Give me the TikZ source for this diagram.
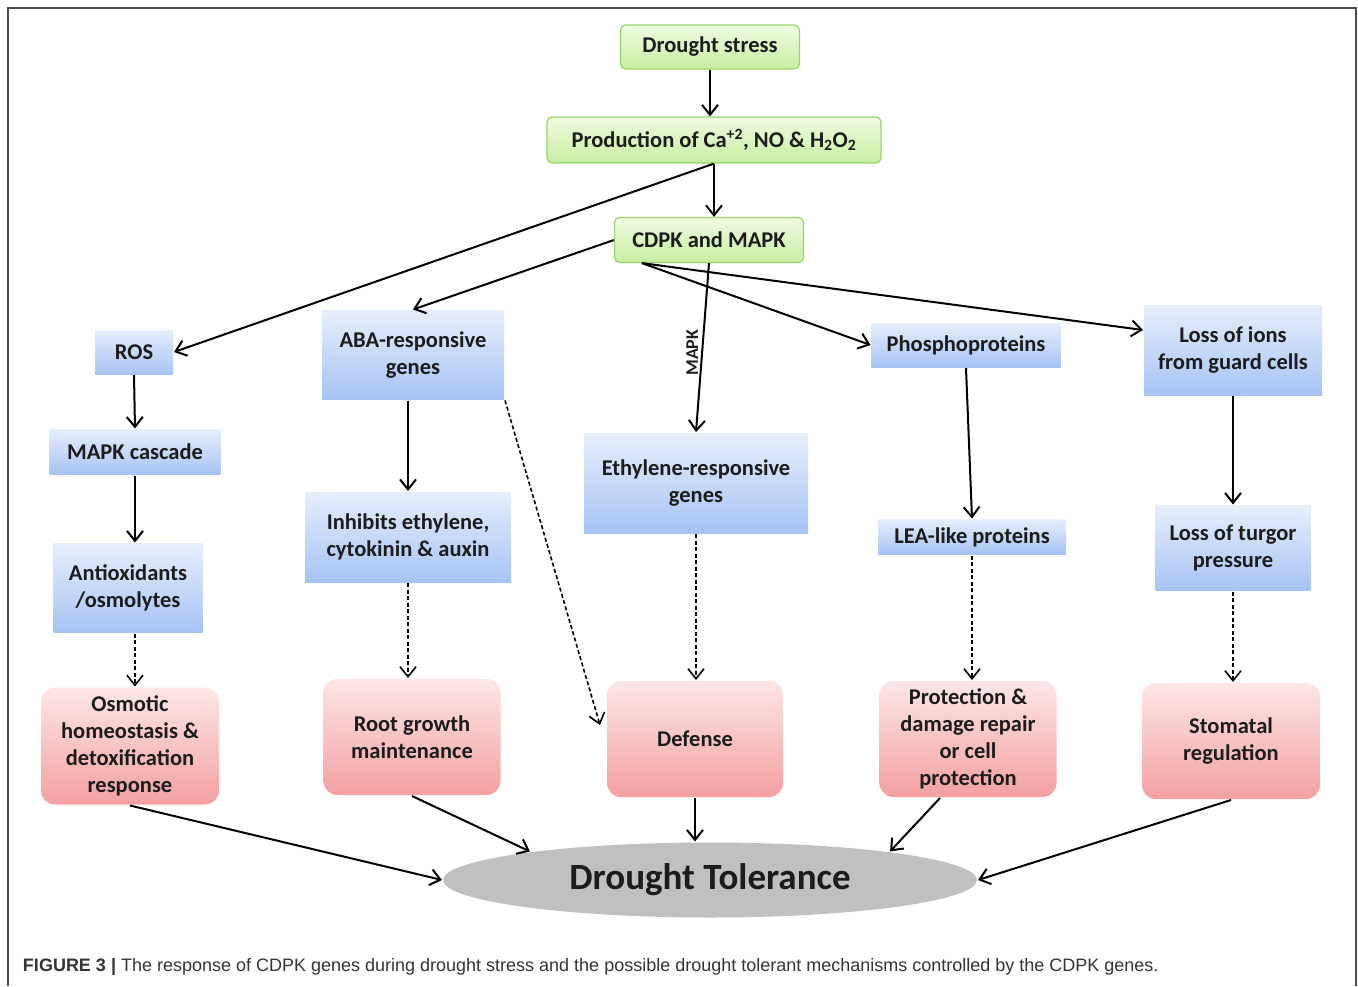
\documentclass[tikz,border=0pt]{standalone}
\usepackage{fontspec}
\setmainfont{Carlito}
\newfontfamily\capfont{Liberation Sans}
\usetikzlibrary{positioning, arrows.meta, shapes.geometric}
\definecolor{greentop}{HTML}{F0FBE2}
\definecolor{greenbot}{HTML}{C6EEA0}
\definecolor{greenline}{HTML}{98D46A}
\definecolor{bluetop}{HTML}{E6EEFC}
\definecolor{bluebot}{HTML}{A6C3F4}
\definecolor{pinktop}{HTML}{FDE6E6}
\definecolor{pinkbot}{HTML}{F3A0A0}
\definecolor{tolgray}{HTML}{C0C0C0}
\definecolor{inktext}{HTML}{1C1C1C}

\begin{document}
\begin{tikzpicture}[x=1pt,y=-1pt,>={Straight Barb[length=10pt,width=16pt]},line width=2pt,on grid,
  font=\bfseries\fontsize{22.5}{27}\selectfont]
\tikzstyle{greenbox}=[draw=greenline,line width=1.2pt,rounded corners=5pt,top color=greentop,bottom color=greenbot,
  align=center,inner sep=0pt,text=inktext]
\tikzstyle{bluebox}=[top color=bluetop,bottom color=bluebot,align=center,inner sep=0pt,text=inktext]
\tikzstyle{pinkbox}=[rounded corners=14pt,top color=pinktop,bottom color=pinkbot,align=center,inner sep=0pt,text=inktext]
\tikzstyle{dashline}=[->,line width=1.6pt,dash pattern=on 4pt off 2.5pt]

\useasboundingbox (0,0) rectangle (1358,986);
\draw[gray!60!black,line width=1.5pt] (8,986) -- (8,8) -- (1356,8) -- (1356,986);

%--- top chain ---
\node[greenbox,minimum width=179pt,minimum height=44pt] (ds) at (710,47) {Drought stress};
\node[greenbox,minimum width=334pt,minimum height=46pt] (prod) [below right=93pt and 4pt of ds]
  {Production of Ca\textsuperscript{+2}, NO \& H\textsubscript{2}O\textsubscript{2}};
\node[greenbox,minimum width=189pt,minimum height=45pt] (cdpk) [below left=100pt and 5pt of prod] {CDPK and MAPK};

%--- second row ---
\node[bluebox,minimum width=78pt,minimum height=44pt] (ros) at (134,352) {ROS};
\node[bluebox,minimum width=182pt,minimum height=89pt] (aba) at (413,355) {ABA-responsive\\genes};
\node[bluebox,minimum width=224pt,minimum height=100pt] (eth) at (696,483) {Ethylene-responsive\\genes};
\node[bluebox,minimum width=189pt,minimum height=44pt] (phos) at (966,345) {Phosphoproteins};
\node[bluebox,minimum width=178pt,minimum height=90pt] (ions) at (1233,350) {Loss of ions\\from guard cells};

%--- columns ---
\node[bluebox,minimum width=171pt,minimum height=45pt] (mc) [below right=100pt and 1pt of ros] {MAPK cascade};
\node[bluebox,minimum width=149pt,minimum height=89pt] (anti) [below left=136pt and 7pt of mc] {Antioxidants\\/osmolytes};
\node[bluebox,minimum width=206pt,minimum height=90pt] (inh) [below left=182pt and 5pt of aba] {Inhibits ethylene,\\cytokinin \& auxin};
\node[bluebox,minimum width=188pt,minimum height=35pt] (lea) [below right=192pt and 6pt of phos] {LEA-like proteins};
\node[bluebox,minimum width=155pt,minimum height=85pt] (turg) [below=198pt of ions] {Loss of turgor\\pressure};

%--- outcomes ---
\node[pinkbox,minimum width=178pt,minimum height=117pt] (os) [below right=158pt and 2pt of anti]
  {Osmotic\\homeostasis \&\\detoxification\\response};
\node[pinkbox,minimum width=177pt,minimum height=116pt] (root) [below right=200pt and 4pt of inh] {Root growth\\maintenance};
\node[pinkbox,minimum width=176pt,minimum height=116pt] (def) [below left=256pt and 1pt of eth] {Defense};
\node[pinkbox,minimum width=177pt,minimum height=116pt] (prot) [below left=202pt and 4pt of lea]
  {Protection \&\\damage repair\\or cell\\protection};
\node[pinkbox,minimum width=178pt,minimum height=116pt] (stom) [below left=193pt and 2pt of turg] {Stomatal\\regulation};

\node[ellipse,fill=tolgray,minimum width=534pt,minimum height=75pt,inner sep=0pt,text=inktext,
  font=\bfseries\fontsize{37}{40}\selectfont] (dt) at (710,880) {Drought Tolerance};

%--- arrows ---
\draw[->] (ds.south) -- (ds.south |- prod.north);
\draw[->] (prod.south) -- (prod.south |- cdpk.north);
\draw[->] (prod.south) -- (ros.east);
\draw[->] (cdpk.west) -- (aba.north);
\draw[->] (cdpk.south) -- node[pos=0.53,rotate=90,anchor=south,inner sep=3pt,text=inktext,
  font=\bfseries\fontsize{18}{18}\selectfont] {MAPK} (eth.north);
\draw[->] ([xshift=28pt]cdpk.south west) -- (phos.west);
\draw[->] ([xshift=28pt]cdpk.south west) -- ([yshift=20pt]ions.west);

\draw[->] (ros.south) -- (mc.north);
\draw[->] (mc.south) -- (mc.south |- anti.north);
\draw[dashline] (mc.south |- anti.south) -- (mc.south |- os.north);
\draw[->] (inh.north |- aba.south) -- (inh.north);
\draw[dashline] (inh.south) -- (inh.south |- root.north);
\draw[dashline] (aba.south east) -- ([xshift=-6pt,yshift=14pt]def.west);
\draw[dashline] (eth.south) -- (eth.south |- def.north);
\draw[->] (phos.south) -- (lea.north);
\draw[dashline] (lea.south) -- (lea.south |- prot.north);
\draw[->] (ions.south) -- (turg.north);
\draw[dashline] (turg.south) -- (turg.south |- stom.north);

\draw[->] (os.south) -- (dt.west);
\draw[->] (root.south) -- (dt.171);
\draw[->] (def.south) -- (def.south |- dt.north);
\draw[->] ([xshift=-28pt]prot.south) -- (dt.9);
\draw[->] (stom.south) -- (dt.east);

%--- caption ---
\node[anchor=west,inner sep=0pt,text=black!80,font=\capfont\mdseries\fontsize{18}{20}\selectfont] (cap) at (22,967)
  {\textbf{FIGURE 3 |} The response of CDPK genes during drought stress and the possible drought tolerant mechanisms controlled by the CDPK genes.};
\end{tikzpicture}
\end{document}
